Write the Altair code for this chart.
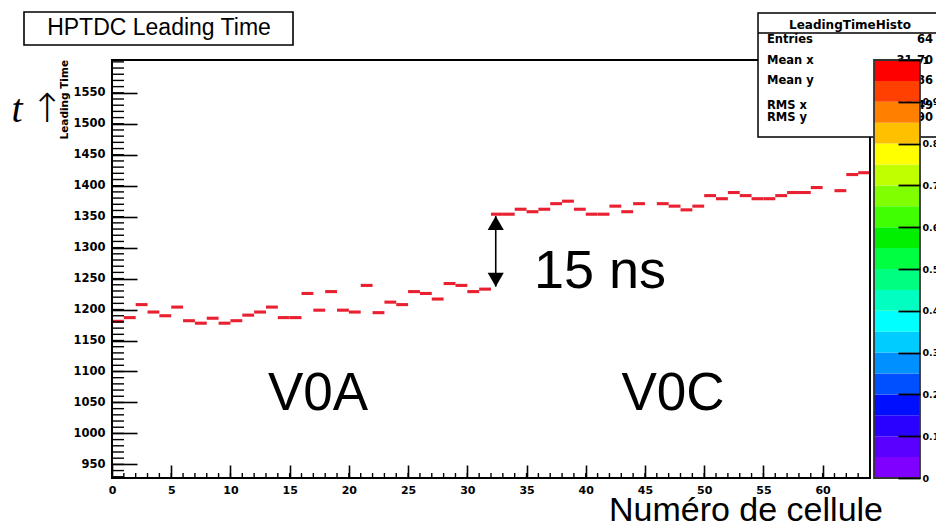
import altair as alt
import pandas as pd

# ---------------- data ----------------
cells = list(range(64))
leading_time = [1181, 1187, 1208, 1196, 1190, 1204, 1182, 1178, 1186, 1178,
                1182, 1191, 1196, 1204, 1187, 1187, 1226, 1199, 1229, 1199,
                1196, 1239, 1195, 1212, 1208, 1229, 1226, 1217, 1242, 1239,
                1229, 1233, 1354, 1354, 1362, 1358, 1362, 1371, 1375, 1362,
                1354, 1354, 1367, 1358, 1371, None, 1371, 1367, 1361, 1367,
                1384, 1379, 1389, 1384, 1379, 1379, 1384, 1389, 1389, 1397,
                None, 1392, 1418, 1421]

y_tick_values = [950, 1000, 1050, 1100, 1150, 1200, 1250, 1300, 1350, 1400, 1450, 1500, 1550]
x_tick_values = [0, 5, 10, 15, 20, 25, 30, 35, 40, 45, 50, 55, 60]
y_minor_values = list(range(930, 1601, 10))
x_minor_values = list(range(0, 65))
cb_tick_values = [0, 0.1, 0.2, 0.3, 0.4, 0.5, 0.6, 0.7, 0.8, 0.9, 1]
cb_levels = [0, 0.05, 0.1, 0.15, 0.2, 0.25, 0.3, 0.35, 0.4, 0.45,
             0.5, 0.55, 0.6, 0.65, 0.7, 0.75, 0.8, 0.85, 0.9, 0.95]
palette = ["#8000ff", "#5a00ff", "#2a00ff", "#0010ff", "#0050ff", "#0090ff", "#00ccff",
           "#00ffff", "#00ffc0", "#00ff80", "#00ff40", "#00f000", "#40ff00", "#80ff00",
           "#c0ff00", "#ffff00", "#ffc000", "#ff8000", "#ff4000", "#ff0000"]

arrow_cell = [32.4]
arrow_low = [1237]
arrow_high = [1351]

title_text = "HPTDC Leading Time"
y_title = "Leading Time"
x_title = "Numéro de cellule"
stats_header = "LeadingTimeHisto"
stats_names = ["Entries", "Mean x", "Mean y", "RMS x", "RMS y"]
stats_values = ["64", "31.70", "1286", "18.49", "84.90"]
gap_text = "15 ns"
left_text = "V0A"
right_text = "V0C"

# ---------------- tables ----------------
BIN = 5.0
dash_df = pd.DataFrame({"cell": cells, "t": leading_time}).dropna()
dash_df["cell_end"] = dash_df["cell"] + 1
dash_df["t_lo"] = dash_df["t"] - BIN / 2
dash_df["t_hi"] = dash_df["t"] + BIN / 2

ymin_df = pd.DataFrame({"t_lo": y_minor_values})
xmin_df = pd.DataFrame({"cell": x_minor_values})
arrow_df = pd.DataFrame({"cell": arrow_cell, "t_lo": arrow_low, "t_hi": arrow_high})
cb_df = pd.DataFrame({"lev_lo": cb_levels, "col": palette})
cb_df["lev_hi"] = cb_df["lev_lo"] + 0.05
one = pd.DataFrame({"k": [0]})

W, H = 758, 418
RED = "#e82030"

x_scale = alt.Scale(domain=[0, 64], nice=False, zero=False)
y_scale = alt.Scale(domain=[928, 1603], nice=False, zero=False)

x_axis = alt.Axis(values=x_tick_values, title=None, offset=-13, tickSize=13, tickWidth=1.6,
                  tickColor="black", labelPadding=6, labelAngle=0, labelFlush=False,
                  labelOverlap=False, domain=False, grid=False, labelFont="DejaVu Sans",
                  labelFontSize=11, labelFontWeight="bold", labelColor="black", zindex=1,
                  format="d")
y_axis = alt.Axis(values=y_tick_values, title=None, offset=-25, tickSize=25, tickWidth=1.6,
                  tickColor="black", labelPadding=7, labelOverlap=False, labelFlush=False,
                  domain=False, grid=False, labelFont="DejaVu Sans", labelFontSize=11.5,
                  labelFontWeight="bold", labelColor="black", zindex=1, format="d")
cb_axis = alt.Axis(orient="right", values=cb_tick_values, title=None, offset=28, tickSize=22,
                   tickWidth=1.8, tickColor="black", labelPadding=2, labelOverlap=False,
                   labelFlush=False, domain=False, grid=False, format="~g",
                   labelFont="DejaVu Sans", labelFontSize=9.5, labelFontWeight="bold",
                   labelColor="black", zindex=1)

X = alt.X("cell:Q", scale=x_scale, axis=x_axis)
Y = alt.Y("t_lo:Q", scale=y_scale, axis=y_axis)

dashes = alt.Chart(dash_df).mark_rect(color=RED).encode(
    x=X, x2="cell_end:Q", y=Y, y2="t_hi:Q")

ymin = alt.Chart(ymin_df).mark_rule(color="black", strokeWidth=1.4).encode(
    y=Y, x=alt.value(0), x2=alt.value(12))
xmin = alt.Chart(xmin_df).mark_rule(color="black", strokeWidth=1.4).encode(
    x=X, y=alt.value(H - 5), y2=alt.value(H))

arrow = alt.Chart(arrow_df).mark_rule(color="black", strokeWidth=1.6).encode(
    x=X, y=Y, y2="t_hi:Q")
head_up = alt.Chart(arrow_df).mark_point(shape="triangle-up", filled=True, size=260,
                                          color="black", opacity=1, yOffset=7).encode(
    x=X, y=alt.Y("t_hi:Q", scale=y_scale, axis=y_axis))
head_dn = alt.Chart(arrow_df).mark_point(shape="triangle-down", filled=True, size=260,
                                          color="black", opacity=1, yOffset=-7).encode(
    x=X, y=Y)

frame = alt.Chart(one).mark_rect(fill="transparent", stroke="black", strokeWidth=2).encode(
    x=alt.value(0), x2=alt.value(W), y=alt.value(0), y2=alt.value(H))

main = alt.layer(dashes, ymin, xmin, arrow, head_up, head_dn, frame)


def box(x1, x2, y1, y2, sw=1.5):
    return alt.Chart(one).mark_rect(fill="white", stroke="black", strokeWidth=sw).encode(
        x=alt.value(x1), x2=alt.value(x2), y=alt.value(y1), y2=alt.value(y2))


def txt(text, x, y, size, font="Liberation Sans", weight="normal", align="center",
        baseline="alphabetic", angle=0, style="normal"):
    kw = dict(text=text, fontSize=size, font=font, fontWeight=weight, align=align,
              baseline=baseline, color="black", fontStyle=style)
    if angle:
        kw["angle"] = angle
    return alt.Chart(one).mark_text(**kw).encode(x=alt.value(x), y=alt.value(y))


# stats box
stats_layers = [box(646, 840, -47, 77, 1.5),
                alt.Chart(one).mark_rule(color="black", strokeWidth=1.5).encode(
                    x=alt.value(646), x2=alt.value(840), y=alt.value(-27)),
                txt(stats_header, 738, -31, 12, "DejaVu Sans", "bold")]
row_y = [-20, 1, 21, 46, 58]
for name, val, ry in zip(stats_names, stats_values, row_y):
    stats_layers.append(txt(name, 655, ry, 11.5, "DejaVu Sans", "bold", "left", "middle"))
    stats_layers.append(txt(val, 821, ry, 11.5, "DejaVu Sans", "bold", "right", "middle"))

# colour bar
cbar = alt.Chart(cb_df).mark_rect().encode(
    x=alt.value(762), x2=alt.value(808),
    y=alt.Y("lev_lo:Q", scale=alt.Scale(domain=[0, 1], nice=False, zero=False), axis=cb_axis),
    y2="lev_hi:Q",
    color=alt.Color("col:N", scale=None))
cbar_border = alt.Chart(one).mark_rect(fill="transparent", stroke="#333333", strokeWidth=1.8).encode(
    x=alt.value(762), x2=alt.value(808), y=alt.value(0), y2=alt.value(H))

decor = [
    box(-88, 181, -48, -15, 1.6),
    txt(title_text, 47, -25, 23, "Liberation Sans", 500),
    txt(y_title, -47, 0, 10.5, "DejaVu Sans", "bold", "right", "middle", angle=270),
    txt("t", -95, 62, 40, "Liberation Serif", "normal", "center", "alphabetic", style="italic"),
    txt("\u2191", -65, 62, 40, "DejaVu Sans", 200),
    txt(gap_text, 488, 228, 54),
    txt(left_text, 206, 350, 53),
    txt(right_text, 561, 350, 53),
    txt(x_title, 634, 461, 34),
]

chart = alt.layer(main, *stats_layers, cbar, cbar_border, *decor).resolve_scale(
    y="independent"
).properties(
    width=W, height=H,
    autosize=alt.AutoSizeParams(type="none"),
    padding={"left": 104, "top": 52, "right": 66, "bottom": 53},
    background="white",
).configure_view(strokeWidth=0)

chart.save("out.html", embed_options={"renderer": "svg", "actions": False})
